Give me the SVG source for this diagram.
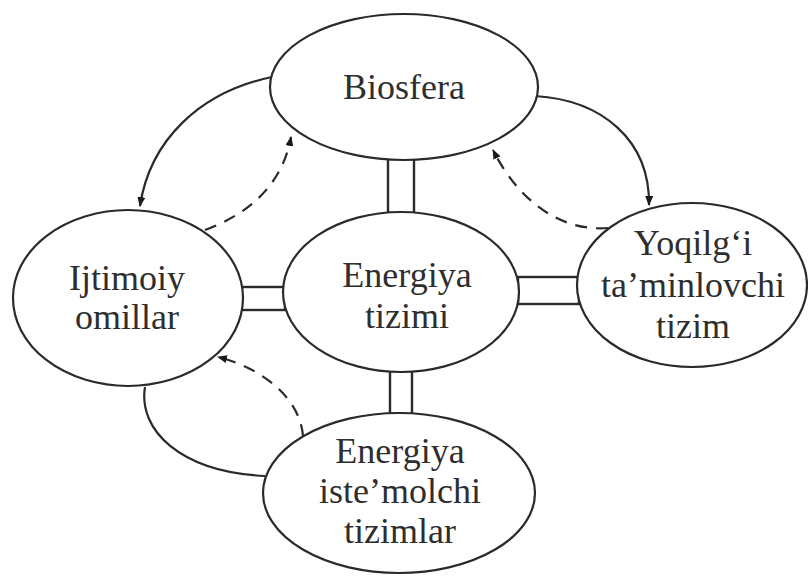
<svg xmlns="http://www.w3.org/2000/svg" width="808" height="576" viewBox="0 0 808 576">
<defs>
<style>
.node ellipse{fill:#fff;stroke:#2a2a2a;stroke-width:2.2}
.node text{font-family:"Liberation Serif","Times New Roman",serif;font-size:36px;fill:#2e2e2e;text-anchor:middle}
.link{fill:none;stroke:#2a2a2a;stroke-width:2.2}
.dash{stroke-dasharray:12 9}
.bar{fill:#fff;stroke:#2a2a2a;stroke-width:2.4}
</style>
<marker id="ah" viewBox="0 0 10 8" refX="9" refY="4" markerWidth="10" markerHeight="8" markerUnits="userSpaceOnUse" orient="auto">
<path d="M0,0 L10,4 L0,8 Z" fill="#1a1a1a"/>
</marker>
</defs>
<rect width="808" height="576" fill="#fff"/>
<g id="connectors">
<rect class="bar" x="388" y="158" width="26" height="56"/>
<rect class="bar" x="241" y="287" width="44" height="23"/>
<rect class="bar" x="518" y="277" width="61" height="27"/>
<rect class="bar" x="390" y="370" width="22" height="45"/>
<path class="link" d="M272,77 C200,92 150,140 140,206" marker-end="url(#ah)"/>
<path class="link dash" d="M205,230 C248,214 282,186 291,137" marker-end="url(#ah)"/>
<path class="link" d="M535,96 C602,100 650,140 649,205" marker-end="url(#ah)"/>
<path class="link dash" d="M608,228 C560,232 518,200 493,150" marker-end="url(#ah)"/>
<path class="link" d="M145,387 C138,430 180,472 265,476"/>
<path class="link dash" d="M303,436 C300,398 262,368 218,357" marker-end="url(#ah)"/>
</g>
<g id="biosfera" class="node">
<ellipse cx="404" cy="87" rx="134" ry="73"/>
<text x="404" y="99">Biosfera</text>
</g>
<g id="ijtimoiy" class="node">
<ellipse cx="128" cy="298" rx="115" ry="88"/>
<text x="127" y="290">Ijtimoiy</text>
<text x="127" y="329">omillar</text>
</g>
<g id="energiya" class="node">
<ellipse cx="401" cy="292" rx="118" ry="80"/>
<text x="407" y="287">Energiya</text>
<text x="407" y="328">tizimi</text>
</g>
<g id="yoqilgi" class="node">
<ellipse cx="692" cy="285" rx="115" ry="82"/>
<text x="693" y="255">Yoqilg‘i</text>
<text x="693" y="297">ta’minlovchi</text>
<text x="693" y="338">tizim</text>
</g>
<g id="istemol" class="node">
<ellipse cx="399" cy="493" rx="136" ry="80"/>
<text x="400" y="463">Energiya</text>
<text x="400" y="503">iste’molchi</text>
<text x="400" y="543">tizimlar</text>
</g>
</svg>
